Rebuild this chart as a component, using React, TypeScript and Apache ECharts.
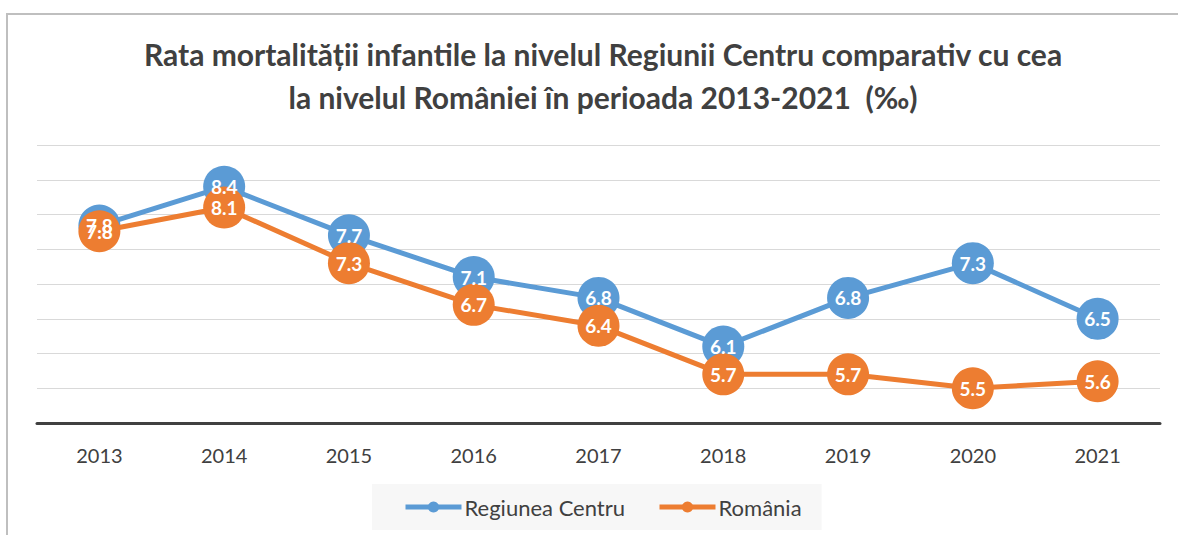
import React, { useEffect, useRef } from "react";
import * as echarts from "echarts";

const years = ["2013", "2014", "2015", "2016", "2017", "2018", "2019", "2020", "2021"];
const regiuneaCentru = [7.84, 8.4, 7.7, 7.1, 6.8, 6.1, 6.8, 7.3, 6.5];
const romania = [7.76, 8.1, 7.3, 6.7, 6.4, 5.7, 5.7, 5.5, 5.6];
const titleLines = [
  "Rata mortalității infantile la nivelul Regiunii Centru comparativ cu cea",
  "la nivelul României în perioada 2013-2021  (‰)",
];

export default function App() {
  const ref = useRef<HTMLDivElement>(null);
  useEffect(() => {
    const chart = echarts.init(ref.current!, null, { renderer: "svg" });
    const font = "Lato, 'Open Sans', sans-serif";
    const mkSeries = (name: string, data: number[], color: string, z: number) => ({
      name,
      type: "line",
      data,
      z,
      symbol: "circle",
      symbolSize: 42,
      lineStyle: { color, width: 5 },
      itemStyle: { color },
      label: { show: false },
      emphasis: { disabled: true },
    });
    const mkLabels = (name: string, data: number[]) => ({
      name: name + "-labels",
      type: "line",
      data,
      z: 10,
      symbol: "circle",
      symbolSize: 42,
      lineStyle: { color: "rgba(0,0,0,0)", width: 0 },
      itemStyle: { color: "rgba(0,0,0,0)", borderWidth: 0 },
      label: {
        show: true,
        position: "inside",
        color: "#ffffff",
        fontWeight: "bold",
        fontSize: 19,
        lineHeight: 19,
        fontFamily: font,
        formatter: (p: any) => Number(p.value).toFixed(1),
      },
      emphasis: { disabled: true },
      silent: true,
    });
    chart.setOption({
      animation: false,
      backgroundColor: "#ffffff",
      title: {
        text: titleLines.join("\n"),
        left: 598,
        textAlign: "center",
        top: 27,
        textStyle: {
          fontFamily: font,
          fontWeight: "bold",
          fontSize: 30,
          lineHeight: 43,
          color: "#404040",
        },
      },
      graphic: [
        {
          type: "rect",
          shape: { x: 7, y: 14, width: 1185, height: 600 },
          style: { fill: "none", stroke: "#BFBFBF", lineWidth: 2 },
          silent: true,
        },
      ],
      legend: {
        bottom: 5,
        left: 372,
        backgroundColor: "#F7F7F7",
        padding: [12, 20, 12, 31],
        itemWidth: 56,
        itemHeight: 14,
        itemGap: 32,
        lineStyle: { width: 5 },
        textStyle: { fontFamily: font, fontSize: 22, color: "#404040", padding: [0, 0, 0, -2] },
        data: ["Regiunea Centru", "România"],
      },
      grid: { left: 37, right: 18, top: 145, bottom: 112 },
      xAxis: {
        type: "category",
        data: years,
        boundaryGap: true,
        axisLine: { show: true, lineStyle: { color: "#404040", width: 3 } },
        axisTick: { show: false },
        axisLabel: { fontFamily: font, fontSize: 20, color: "#404040", margin: 22 },
      },
      yAxis: {
        type: "value",
        min: 5,
        max: 9,
        interval: 0.5,
        axisLabel: { show: false },
        axisLine: { show: false },
        axisTick: { show: false },
        splitLine: { lineStyle: { color: "#D9D9D9", width: 1 } },
      },
      series: [
        mkSeries("Regiunea Centru", regiuneaCentru, "#5B9BD5", 2),
        mkSeries("România", romania, "#ED7D31", 3),
        mkLabels("Regiunea Centru", regiuneaCentru),
        mkLabels("România", romania),
      ],
    });
    return () => chart.dispose();
  }, []);
  return (
    <div
      ref={ref}
      style={{ position: "fixed", left: 0, top: 0, width: 1178, height: 535 }}
    />
  );
}
